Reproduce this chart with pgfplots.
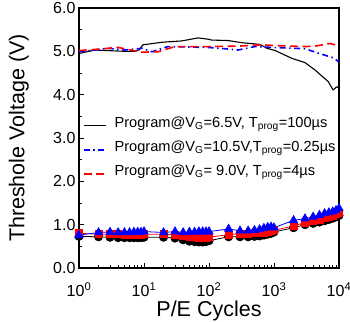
\documentclass[border=0pt]{standalone}
\usepackage{fontspec}
\setmainfont{Liberation Sans}
\usepackage{pgfplots}
\pgfplotsset{compat=1.18}
\begin{document}
\begin{tikzpicture}
\begin{axis}[
  name=ax,
  width=260bp, height=260bp, scale only axis,
  xmode=log, xmin=1, xmax=10000,
  ymin=0, ymax=6,
  xtick={1,10,100,1000,10000},
  xticklabels={10\textsuperscript{0},10\textsuperscript{1},10\textsuperscript{2},10\textsuperscript{3},10\textsuperscript{4}},
  ytick={0,1,2,3,4,5,6},
  minor y tick num=1,
  yticklabel style={/pgf/number format/.cd, fixed, fixed zerofill, precision=1, assume math mode=true},
  tick pos=left, tick align=inside,
  major tick length=5bp, minor tick length=3bp,
  axis line style={line width=1.3bp},
  every tick/.style={black, line width=0.8bp},
  tick label style={font=\fontsize{16bp}{18bp}\selectfont},
  xticklabel style={anchor=base, yshift=-29bp},
  label style={font=\fontsize{21.5bp}{24bp}\selectfont},
  xlabel={P/E Cycles},
  ylabel={Threshole Voltage (V)},
  xlabel style={at={(axis description cs:0.5,-0.187)}, anchor=base},
  ylabel style={at={(axis description cs:-0.192,0.5)}, anchor=south, inner sep=0pt},
  legend image code/.code={\draw[#1] (0bp,0bp) -- (22bp,0bp);},
  legend cell align=left,
  legend style={at={(axis description cs:0.0154,0.580)}, anchor=north west,
    draw=none, fill=none, inner sep=0pt, outer sep=0pt,
    font=\fontsize{14.6bp}{18bp}\selectfont,
    nodes={inner sep=0pt, text height=10bp, text depth=6.8bp},
    row sep=7.4bp,
    /tikz/every odd column/.append style={column sep=8bp}},
]
% upper curves
\addplot[black, line width=1.1bp] coordinates {
(1,4.95) (1.76,5.03) (5.1,5.00) (7.3,5.00) (8.5,5.04) (9.6,5.15) (19,5.21) (38,5.24)
(68,5.31) (96.6,5.28) (110,5.26) (196,5.25) (316,5.20) (609,5.16) (776,5.07)
(1036,5.02) (1870,4.84) (3000,4.74) (4270,4.57) (6840,4.30) (8090,4.11) (9220,4.18) (10000,4.15)};
\addlegendentry{Program@V\textsubscript{G}=6.5V, T\textsubscript{prog}=100µs}
\addplot[blue, line width=1.6bp, dash pattern=on 6bp off 3.5bp on 1.5bp off 3.5bp] coordinates {
(1,4.99) (1.76,5.03) (2.8,5.07) (5.1,5.03) (9.3,5.07) (13.3,4.99) (23.4,5.11) (96.6,5.09)
(176,5.06) (279,5.03) (510,5.11) (931,5.09) (3000,5.06) (4750,4.96) (7800,4.86) (10000,4.76)};
\addlegendentry{Program@V\textsubscript{G}=10.5V,T\textsubscript{prog}=0.25µs}
\addplot[red, line width=1.6bp, dash pattern=on 8bp off 4.5bp] coordinates {
(1,5.02) (1.37,5.03) (2.8,5.07) (4.0,5.09) (7.3,5.01) (9.3,4.98) (16.4,4.99) (30,5.11)
(96.6,5.11) (279,5.12) (653,5.15) (1150,5.13) (3000,5.11) (4270,5.12) (7260,5.18) (10000,5.13)};
\addlegendentry{Program@V\textsubscript{G}= 9.0V, T\textsubscript{prog}=4µs}
% lower curves
\addplot[black, line width=0.8bp, mark=*, mark size=4.1bp, forget plot] table {
x y
1 0.73
2 0.72
3 0.71
4 0.70
5 0.70
6 0.70
7 0.70
8 0.70
9 0.70
10 0.71
20 0.71
30 0.69
40 0.65
50 0.62
60 0.61
70 0.60
80 0.60
90 0.61
100 0.63
200 0.72
300 0.72
400 0.72
500 0.73
600 0.74
700 0.76
800 0.78
900 0.80
1000 0.83
2000 0.93
3000 1.00
4000 1.03
5000 1.06
6000 1.09
7000 1.12
8000 1.15
9000 1.18
10000 1.21
};
\addplot[red, line width=0.8bp, mark=square*, mark size=3.5bp, forget plot] table {
x y
1 0.80
2 0.78
3 0.78
4 0.78
5 0.77
6 0.77
7 0.77
8 0.77
9 0.77
10 0.78
20 0.78
30 0.76
40 0.74
50 0.72
60 0.71
70 0.70
80 0.70
90 0.70
100 0.71
200 0.77
300 0.79
400 0.79
500 0.80
600 0.81
700 0.82
800 0.84
900 0.86
1000 0.87
2000 0.97
3000 1.05
4000 1.08
5000 1.11
6000 1.15
7000 1.18
8000 1.21
9000 1.24
10000 1.28
};
\addplot[blue, line width=0.8bp, mark=triangle*, mark size=4.6bp, forget plot] table {
x y
1 0.76
2 0.82
3 0.83
4 0.82
5 0.82
6 0.82
7 0.83
8 0.83
9 0.83
10 0.84
20 0.82
30 0.84
40 0.82
50 0.83
60 0.83
70 0.84
80 0.84
90 0.84
100 0.84
200 0.90
300 0.86
400 0.86
500 0.87
600 0.89
700 0.92
800 0.94
900 0.95
1000 0.93
2000 1.10
3000 1.14
4000 1.18
5000 1.22
6000 1.26
7000 1.28
8000 1.30
9000 1.33
10000 1.38
};
\end{axis}
\pgfresetboundingbox
\path[use as bounding box] ([xshift=-79bp,yshift=-54bp]ax.south west) rectangle ([xshift=11bp,yshift=8bp]ax.north east);
\end{tikzpicture}
\end{document}
